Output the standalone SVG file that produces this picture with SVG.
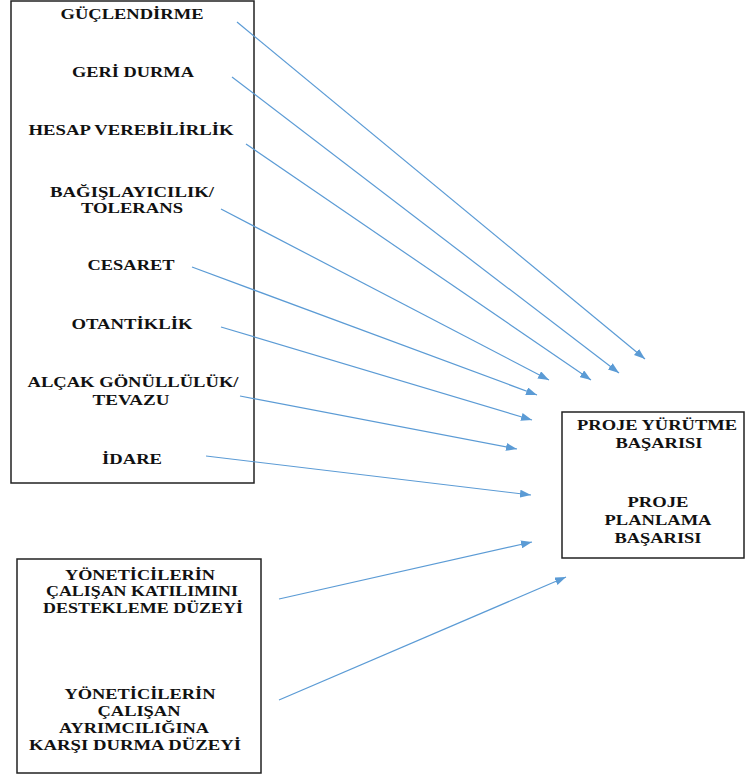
<svg xmlns="http://www.w3.org/2000/svg" width="746" height="778" viewBox="0 0 746 778">
<style>
.box{fill:#fff;stroke:#222;stroke-width:1.5}
.t{font-family:"Liberation Serif","Times New Roman",serif;font-weight:bold;font-size:15px;fill:#111;text-anchor:middle}
.c{stroke:#5B9BD5;stroke-width:1.2;fill:none;marker-end:url(#ah)}
</style>
<defs>
<marker id="ah" markerUnits="userSpaceOnUse" markerWidth="12" markerHeight="8" refX="11" refY="4" orient="auto">
<path d="M0,0 L11,4 L0,8 z" fill="#5B9BD5"/>
</marker>
</defs>
<rect width="746" height="778" fill="#fff"/>
<g id="leaders">
<rect class="box" x="11" y="1" width="243" height="482"/>
<text class="t" x="132" y="19" textLength="143" lengthAdjust="spacingAndGlyphs">GÜÇLENDİRME</text>
<text class="t" x="133" y="77" textLength="122" lengthAdjust="spacingAndGlyphs">GERİ DURMA</text>
<text class="t" x="131" y="135" textLength="205" lengthAdjust="spacingAndGlyphs">HESAP VEREBİLİRLİK</text>
<text class="t" x="132" y="197" textLength="164" lengthAdjust="spacingAndGlyphs">BAĞIŞLAYICILIK/</text>
<text class="t" x="132" y="213" textLength="102" lengthAdjust="spacingAndGlyphs">TOLERANS</text>
<text class="t" x="131" y="270" textLength="87" lengthAdjust="spacingAndGlyphs">CESARET</text>
<text class="t" x="132" y="329" textLength="121" lengthAdjust="spacingAndGlyphs">OTANTİKLİK</text>
<text class="t" x="133" y="387" textLength="211" lengthAdjust="spacingAndGlyphs">ALÇAK GÖNÜLLÜLÜK/</text>
<text class="t" x="131" y="405" textLength="77" lengthAdjust="spacingAndGlyphs">TEVAZU</text>
<text class="t" x="132" y="464" textLength="60" lengthAdjust="spacingAndGlyphs">İDARE</text>
</g>
<g id="managers">
<rect class="box" x="17" y="559" width="244" height="214"/>
<text class="t" x="140" y="580" textLength="150" lengthAdjust="spacingAndGlyphs">YÖNETİCİLERİN</text>
<text class="t" x="142" y="596" textLength="192" lengthAdjust="spacingAndGlyphs">ÇALIŞAN KATILIMINI</text>
<text class="t" x="143" y="613" textLength="200" lengthAdjust="spacingAndGlyphs">DESTEKLEME DÜZEYİ</text>
<text class="t" x="140" y="699" textLength="151" lengthAdjust="spacingAndGlyphs">YÖNETİCİLERİN</text>
<text class="t" x="139" y="716" textLength="83" lengthAdjust="spacingAndGlyphs">ÇALIŞAN</text>
<text class="t" x="134" y="733" textLength="150" lengthAdjust="spacingAndGlyphs">AYRIMCILIĞINA</text>
<text class="t" x="135" y="750" textLength="212" lengthAdjust="spacingAndGlyphs">KARŞI DURMA DÜZEYİ</text>
</g>
<g id="success">
<rect class="box" x="562" y="412" width="182" height="146"/>
<text class="t" x="657" y="430" textLength="160" lengthAdjust="spacingAndGlyphs">PROJE YÜRÜTME</text>
<text class="t" x="659" y="448" textLength="87" lengthAdjust="spacingAndGlyphs">BAŞARISI</text>
<text class="t" x="658" y="507" textLength="61" lengthAdjust="spacingAndGlyphs">PROJE</text>
<text class="t" x="658" y="525" textLength="107" lengthAdjust="spacingAndGlyphs">PLANLAMA</text>
<text class="t" x="658" y="543" textLength="87" lengthAdjust="spacingAndGlyphs">BAŞARISI</text>
</g>
<g id="connectors">
<line class="c" x1="237" y1="22" x2="645" y2="359"/>
<line class="c" x1="232" y1="77" x2="619" y2="373"/>
<line class="c" x1="246" y1="144" x2="591" y2="380"/>
<line class="c" x1="221" y1="209" x2="549" y2="380"/>
<line class="c" x1="192" y1="267" x2="537" y2="395"/>
<line class="c" x1="221" y1="327" x2="532" y2="420"/>
<line class="c" x1="240" y1="396" x2="517" y2="449"/>
<line class="c" x1="206" y1="456" x2="531" y2="495"/>
<line class="c" x1="279" y1="599" x2="532" y2="542"/>
<line class="c" x1="279" y1="700" x2="566" y2="577"/>
</g>
</svg>
